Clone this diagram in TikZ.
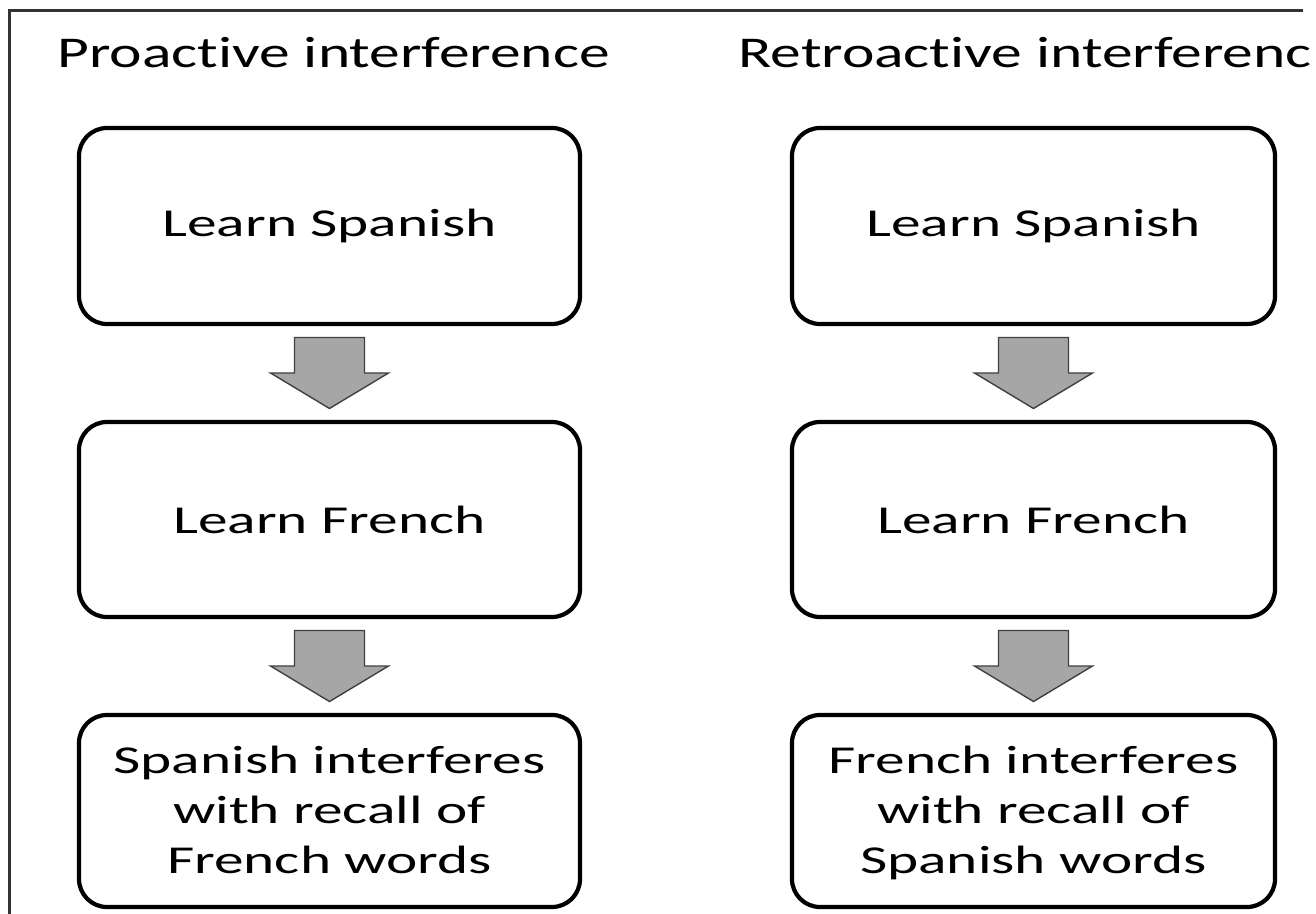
\documentclass[tikz,border=0pt]{standalone}
\usepackage{fontspec}
\setmainfont{Carlito}[FakeStretch=1.4, Ligatures=NoCommon]
\newfontfamily\boxfont{Carlito}[FakeStretch=1.5, Ligatures=NoCommon]
\usetikzlibrary{positioning,calc}

\begin{document}
\begin{tikzpicture}[
    box/.style={draw, line width=2.4pt, rounded corners=0.56cm, align=center,
      font=\boxfont\fontsize{22.5}{28.3}\selectfont, inner sep=0pt,
      outer sep=0pt},
    lbox/.style={box, minimum width=10.02cm},
    rbox/.style={box, minimum width=9.66cm},
    result/.style={minimum height=3.84cm, text height=2.6cm, text depth=0.12cm},
    heading/.style={anchor=base west, inner sep=0pt,
      font=\fontsize{25}{30}\selectfont},
    blockarrow/.style={draw=black!75, fill=black!35, line width=0.8pt,
      line join=miter},
    frame/.style={line width=1.6pt, draw=black!80}]
  \useasboundingbox (0,0) rectangle (26.32,-18.28);
  \draw[frame] (0.19,-18.28) -- (0.19,-0.21) -- (26.06,-0.21);

  \node[heading] (pro) at (1.14,-1.36) {Proactive interference};
  \node[heading] (retro) at (14.76,-1.36) {Retroactive interferenc};

  \node[lbox, minimum height=3.92cm] (ls) at (6.59,-4.52) {Learn Spanish};
  \node[lbox, minimum height=3.9cm] (lf) [below=1.96cm of ls] {Learn French};
  \node[lbox, result] (lr) [below=1.96cm of lf]
    {Spanish interferes\\with recall of\\French words};

  \node[rbox, minimum height=3.92cm] (rs) at (20.67,-4.52) {Learn Spanish};
  \node[rbox, minimum height=3.9cm] (rf) [below=1.96cm of rs] {Learn French};
  \node[rbox, result] (rr) [below=1.96cm of rf]
    {French interferes\\with recall of\\Spanish words};

  % block arrows between the boxes
  \foreach \a/\b in {ls/lf, lf/lr, rs/rf, rf/rr} {
    \coordinate (m) at ($(\a.south)!0.5!(\b.north)$);
    \draw[blockarrow] ($(m)+(-0.7,0.71)$) -- ($(m)+(0.7,0.71)$)
      -- ($(m)+(0.7,0)$) -- ($(m)+(1.18,0)$) -- ($(m)+(0,-0.71)$)
      -- ($(m)+(-1.18,0)$) -- ($(m)+(-0.7,0)$) -- cycle;
  }
\end{tikzpicture}
\end{document}
